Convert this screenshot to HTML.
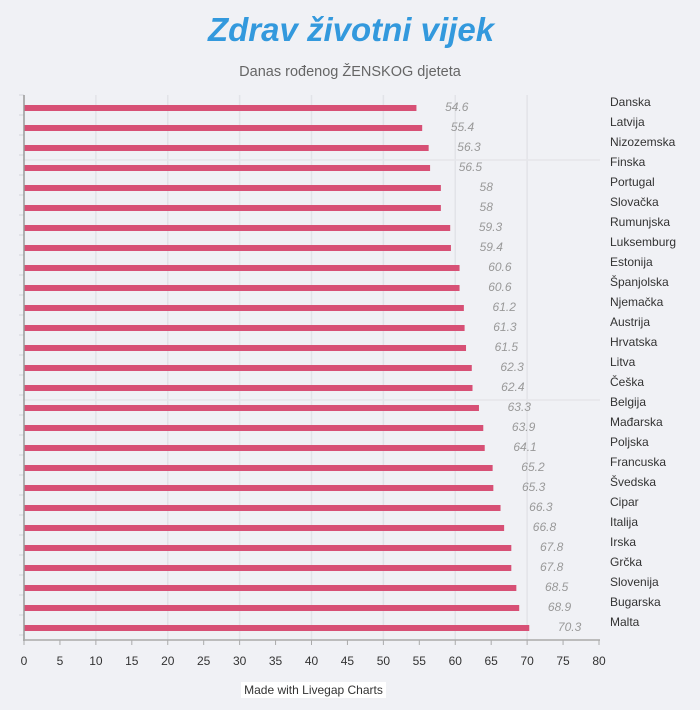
<!DOCTYPE html>
<html><head><meta charset="utf-8"><style>
html,body{margin:0;padding:0;background:#f0f1f5;}
svg{display:block;font-family:"Liberation Sans",sans-serif;}
</style></head><body>
<svg width="700" height="710" xmlns="http://www.w3.org/2000/svg">
<rect width="700" height="710" fill="#f0f1f5"/>
<text x="351" y="41" text-anchor="middle" font-size="33" font-weight="bold" font-style="italic" fill="#3399dd">Zdrav životni vijek</text>
<text x="350" y="76" text-anchor="middle" font-size="14.5" fill="#666">Danas rođenog ŽENSKOG djeteta</text>
<g id="grid" stroke="#e2e3e8" stroke-width="1.5"></g>
<line x1="23" y1="160" x2="600" y2="160" stroke="#e5e6ea" stroke-width="1.5"/>
<line x1="23" y1="400" x2="600" y2="400" stroke="#e5e6ea" stroke-width="1.5"/>
<g id="bars"></g>
<line x1="24" y1="95" x2="24" y2="641" stroke="#999" stroke-width="1.5"/>
<line x1="23" y1="640" x2="600" y2="640" stroke="#aaa" stroke-width="1.5"/>
<rect x="241" y="682" width="145" height="16" fill="#fff"/>
<text x="313.5" y="694" text-anchor="middle" font-size="12" fill="#333">Made with Livegap Charts</text>
</svg>
<script>
var d=[["Danska",54.6],["Latvija",55.4],["Nizozemska",56.3],["Finska",56.5],["Portugal",58],["Slovačka",58],["Rumunjska",59.3],["Luksemburg",59.4],["Estonija",60.6],["Španjolska",60.6],["Njemačka",61.2],["Austrija",61.3],["Hrvatska",61.5],["Litva",62.3],["Češka",62.4],["Belgija",63.3],["Mađarska",63.9],["Poljska",64.1],["Francuska",65.2],["Švedska",65.3],["Cipar",66.3],["Italija",66.8],["Irska",67.8],["Grčka",67.8],["Slovenija",68.5],["Bugarska",68.9],["Malta",70.3]];
var ns="http://www.w3.org/2000/svg",s=7.1875,x0=24;
function el(t,a,p,txt){var e=document.createElementNS(ns,t);for(var k in a)e.setAttribute(k,a[k]);if(txt!=null)e.textContent=txt;p.appendChild(e);return e;}
var g=document.getElementById("grid"),b=document.getElementById("bars"),svg=document.querySelector("svg");
for(var i=1;i<=7;i++){var x=x0+i*10*s;el("line",{x1:x,y1:95,x2:x,y2:640},g);}
for(var i=0;i<=16;i++){var x=x0+i*5*s;el("line",{x1:x,y1:640,x2:x,y2:645,stroke:"#aaa","stroke-width":1},g);
el("text",{x:x,y:665,"text-anchor":"middle","font-size":12,fill:"#333"},svg,String(i*5));}
for(var i=0;i<=27;i++){var y=95+i*20;el("line",{x1:19,y1:y,x2:24,y2:y,stroke:"#e2e3e8","stroke-width":2},g);}
d.forEach(function(r,i){var y=105+i*20,w=r[1]*s;
el("rect",{x:x0,y:y,width:w,height:6,fill:"#d75075"},b);
el("text",{x:x0+w+52,y:y+6,"text-anchor":"end","font-size":12,"font-style":"italic",fill:"#999"},b,String(r[1]));
el("text",{x:610,y:y+1,"font-size":12,fill:"#333"},b,r[0]);});
</script>
</body></html>
